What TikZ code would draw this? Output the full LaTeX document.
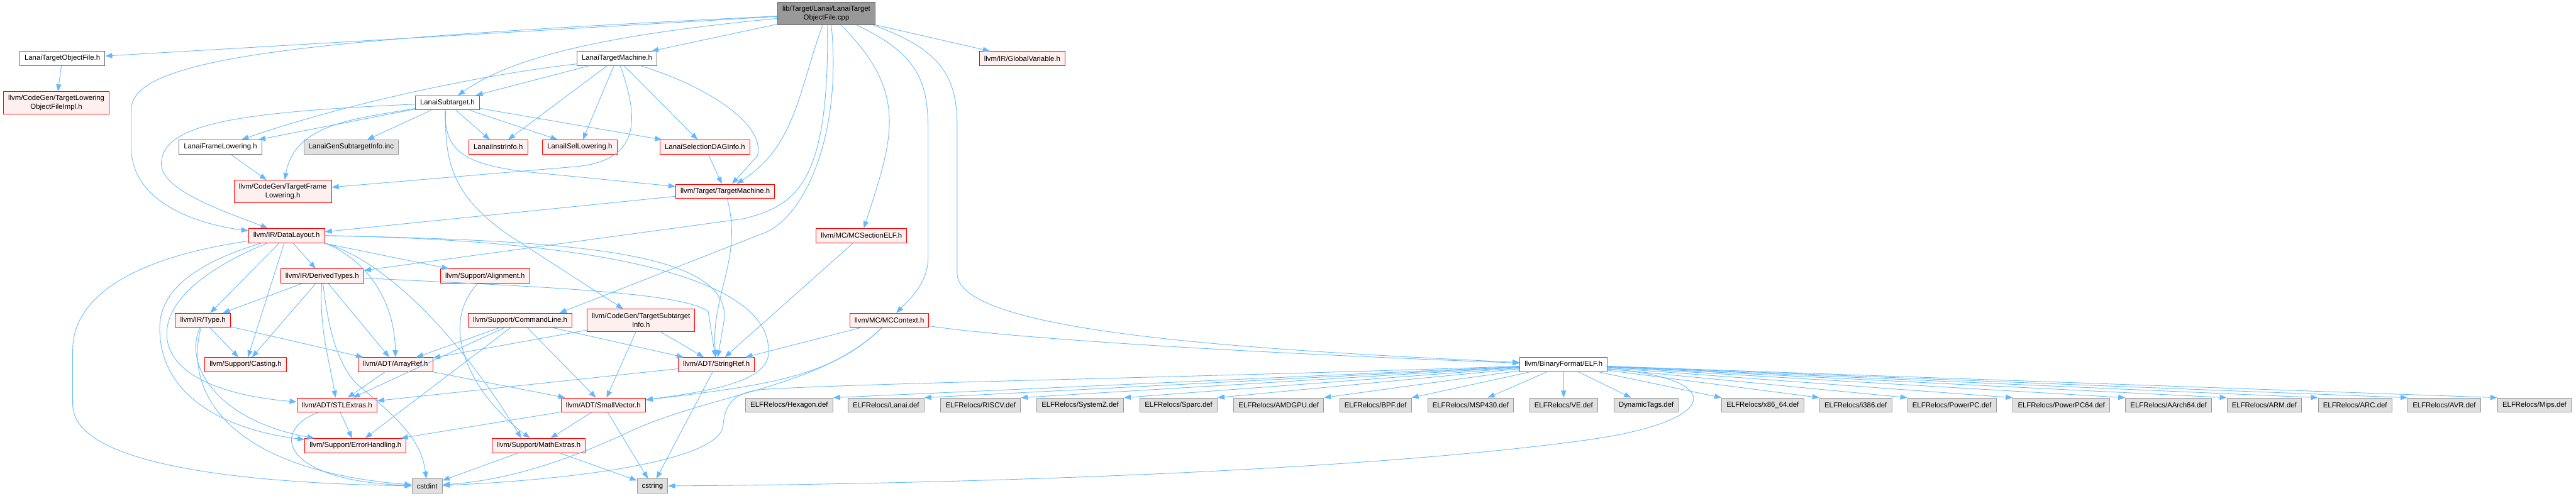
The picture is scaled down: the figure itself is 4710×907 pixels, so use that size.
\documentclass[tikz,border=0pt]{standalone}
\usepackage{fontspec}
\setmainfont{Liberation Sans}
\usetikzlibrary{arrows.meta}

\definecolor{edgeblue}{HTML}{63B8FF}
\definecolor{truncfill}{HTML}{FFF0F0}
\definecolor{sysfill}{HTML}{E0E0E0}
\definecolor{sysborder}{HTML}{999999}
\definecolor{rootfill}{HTML}{999999}
\definecolor{hdrborder}{HTML}{666666}

\begin{document}
\begin{tikzpicture}[x=0.25mm, y=-0.25mm,
    >={Triangle[length=3.2mm,width=2.4mm]},
    box/.style={draw, line width=0.8pt, align=center,
        font=\fontsize{9.3}{11}\selectfont,
        inner xsep=2.2mm, inner ysep=0pt, minimum height=6.5mm},
    rootbox/.style={box, draw=hdrborder, fill=rootfill, minimum height=10.3mm},
    hdr/.style={box, draw=hdrborder, fill=white},
    trunc/.style={box, draw=red, fill=truncfill},
    sys/.style={box, draw=sysborder, fill=sysfill},
    tall/.style={minimum height=10.2mm},
    incl/.style={->, draw=edgeblue, line width=0.7pt}]

        \useasboundingbox (0,0) rectangle (4710,907);

        % Nodes
        \node[rootbox] (main) at (1511,25) {lib/Target/Lanai/LanaiTarget\\ObjectFile.cpp};
        \node[hdr] (tofh) at (114,107) {LanaiTargetObjectFile.h};
        \node[trunc, tall] (tlof) at (103,188) {llvm/CodeGen/TargetLowering\\ObjectFileImpl.h};
        \node[hdr] (ltm) at (1128,107) {LanaiTargetMachine.h};
        \node[trunc] (gv) at (1869,107) {llvm/IR/GlobalVariable.h};
        \node[hdr] (lst) at (818,188) {LanaiSubtarget.h};
        \node[hdr] (lfl) at (403,269) {LanaiFrameLowering.h};
        \node[sys] (lgsi) at (642,269) {LanaiGenSubtargetInfo.inc};
        \node[trunc] (lii) at (911,269) {LanaiInstrInfo.h};
        \node[trunc] (lisel) at (1060,269) {LanaiISelLowering.h};
        \node[trunc] (lsdag) at (1289,269) {LanaiSelectionDAGInfo.h};
        \node[trunc, tall] (tfl) at (517,350) {llvm/CodeGen/TargetFrame\\Lowering.h};
        \node[trunc] (tm) at (1326,350) {llvm/Target/TargetMachine.h};
        \node[trunc] (dl) at (524,431) {llvm/IR/DataLayout.h};
        \node[trunc] (mcsec) at (1575,431) {llvm/MC/MCSectionELF.h};
        \node[trunc] (dt) at (589,505) {llvm/IR/DerivedTypes.h};
        \node[trunc] (align) at (887,505) {llvm/Support/Alignment.h};
        \node[trunc] (type) at (371,586) {llvm/IR/Type.h};
        \node[trunc] (cl) at (951,586) {llvm/Support/CommandLine.h};
        \node[trunc, tall] (tsi) at (1172,586) {llvm/CodeGen/TargetSubtarget\\Info.h};
        \node[trunc] (mcctx) at (1626,586) {llvm/MC/MCContext.h};
        \node[trunc] (cast) at (449,667) {llvm/Support/Casting.h};
        \node[trunc] (aref) at (723,667) {llvm/ADT/ArrayRef.h};
        \node[trunc] (sref) at (1310,667) {llvm/ADT/StringRef.h};
        \node[hdr] (elf) at (2859,667) {llvm/BinaryFormat/ELF.h};
        \node[trunc] (stl) at (616,741) {llvm/ADT/STLExtras.h};
        \node[trunc] (svec) at (1103,741) {llvm/ADT/SmallVector.h};
        \node[trunc] (err) at (650,815) {llvm/Support/ErrorHandling.h};
        \node[trunc] (math) at (985,815) {llvm/Support/MathExtras.h};
        \node[sys] (cstdint) at (781,889) {cstdint};
        \node[sys] (cstring) at (1193,889) {cstring};

        % ELF relocation tables
        \node[sys] (hexdef) at (1443,741) {ELFRelocs/Hexagon.def};
        \node[sys] (lanaidef) at (1620,741) {ELFRelocs/Lanai.def};
        \node[sys] (riscvdef) at (1793,741) {ELFRelocs/RISCV.def};
        \node[sys] (systemzdef) at (1975,741) {ELFRelocs/SystemZ.def};
        \node[sys] (sparcdef) at (2155,741) {ELFRelocs/Sparc.def};
        \node[sys] (amdgpudef) at (2338,741) {ELFRelocs/AMDGPU.def};
        \node[sys] (bpfdef) at (2515,741) {ELFRelocs/BPF.def};
        \node[sys] (mspdef) at (2689,741) {ELFRelocs/MSP430.def};
        \node[sys] (vedef) at (2859,741) {ELFRelocs/VE.def};
        \node[sys] (dyntags) at (3010,741) {DynamicTags.def};
        \node[sys] (x86def) at (3223,741) {ELFRelocs/x86\_64.def};
        \node[sys] (i386def) at (3393,741) {ELFRelocs/i386.def};
        \node[sys] (ppcdef) at (3569,741) {ELFRelocs/PowerPC.def};
        \node[sys] (ppc64def) at (3769,741) {ELFRelocs/PowerPC64.def};
        \node[sys] (aarchdef) at (3965,741) {ELFRelocs/AArch64.def};
        \node[sys] (armdef) at (4140,741) {ELFRelocs/ARM.def};
        \node[sys] (arcdef) at (4306,741) {ELFRelocs/ARC.def};
        \node[sys] (avrdef) at (4469,741) {ELFRelocs/AVR.def};
        \node[sys] (mipsdef) at (4634,741) {ELFRelocs/Mips.def};

        % Edges
        \draw[incl] (main) -- (tofh);
        \draw[incl] (main) .. controls (600,70) and (240,100) .. (240,200) -- (240,270) .. controls (240,370) and (360,410) .. (dl);
        \draw[incl] (main) .. controls (1150,60) and (950,95) .. (lst);
        \draw[incl] (main) -- (ltm);
        \draw[incl] ([xshift=-1.75mm]main.south) to[out=250,in=33] (tm);
        \draw[incl] ([xshift=0.5mm]main.south) .. controls (1516,330) and (1460,375) .. (1360,400) -- (dt);
        \draw[incl] ([xshift=2.25mm]main.south) .. controls (1540,250) and (1470,395) .. (1400,425) -- ([xshift=18mm]cl.north);
        \draw[incl] ([xshift=6.75mm]main.south) to[out=-45,in=72,looseness=1.2] (mcsec);
        \draw[incl] ([xshift=14mm]main.south) .. controls (1680,100) and (1697,150) .. (1697,240) -- (1697,470) .. controls (1697,520) and (1660,550) .. (mcctx);
        \draw[incl] ([xshift=21.5mm]main.south) .. controls (1720,90) and (1750,140) .. (1750,230) -- (1750,500) .. controls (1750,610) and (2300,640) .. (elf);
        \draw[incl] (main) -- (gv);

        \draw[incl] (tofh) -- (tlof);

        \draw[incl] ([yshift=-2.5mm]ltm.west) .. controls (850,140) and (600,200) .. (lfl);
        \draw[incl] (ltm) -- (lst);
        \draw[incl] (ltm) -- (lii);
        \draw[incl] (ltm) -- (lisel);
        \draw[incl] (ltm) -- (lsdag);
        \draw[incl] ([xshift=1.5mm]ltm.south) .. controls (1170,220) and (1170,295) .. (1050,305) -- (tfl);
        \draw[incl] (ltm) .. controls (1300,160) and (1400,230) .. (1385,285) -- (tm);

        \draw[incl] (lst) .. controls (440,205) and (295,225) .. (295,300) .. controls (295,350) and (420,390) .. (dl);
        \draw[incl] (lst) -- (lfl);
        \draw[incl] (lst) to[out=190,in=80] (tfl);
        \draw[incl] (lst) -- (lgsi);
        \draw[incl] (lst) -- (lii);
        \draw[incl] (lst) -- (lisel);
        \draw[incl] (lst) -- (lsdag);
        \draw[incl] ([xshift=-1mm]lst.south) .. controls (812,280) and (850,305) .. (1000,318) -- (tm);
        \draw[incl] ([xshift=-0.75mm]lst.south) .. controls (812,300) and (830,360) .. (930,430) -- (tsi);

        \draw[incl] (lfl) -- (tfl);
        \draw[incl] (lsdag) -- (tm);
        \draw[incl] (tm) -- (dl);
        \draw[incl] (tm) to[out=-75,in=95] (sref);

        \draw[incl] (dl) .. controls (250,470) and (133,540) .. (133,640) -- (133,740) .. controls (133,860) and (500,885) .. (cstdint);
        \draw[incl] (dl) .. controls (360,480) and (292,530) .. (292,600) .. controls (292,740) and (440,790) .. (err);
        \draw[incl] (dl) .. controls (400,480) and (305,540) .. (305,610) .. controls (305,690) and (420,725) .. (stl);
        \draw[incl] (dl) -- (type);
        \draw[incl] (dl) -- (cast);
        \draw[incl] (dl) -- (dt);
        \draw[incl] (dl.south east) .. controls (680,480) and (722,560) .. (aref);
        \draw[incl] (dl.south east) .. controls (740,490) and (880,680) .. ([xshift=-8mm]math.north);
        \draw[incl] (dl) -- (align);
        \draw[incl] (dl.east) .. controls (1050,440) and (1325,460) .. (1325,580) -- (sref);
        \draw[incl] (dl.east) .. controls (1150,440) and (1405,520) .. (1405,640) .. controls (1410,690) and (1330,712) .. (svec);

        \draw[incl] (mcsec) -- (sref);

        \draw[incl] (dt) -- (type);
        \draw[incl] (dt) -- (cast);
        \draw[incl] (dt) -- (aref);
        \draw[incl] (dt) to[out=-93,in=100] (stl);
        \draw[incl] (dt) .. controls (600,600) and (615,660) .. (650,700) .. controls (720,760) and (770,800) .. (cstdint);
        \draw[incl] (dt) .. controls (1000,525) and (1250,535) .. (1295,570) -- (sref);

        \draw[incl] (align) .. controls (800,595) and (860,720) .. ([xshift=-4mm]math.north);

        \draw[incl] (type) -- (cast);
        \draw[incl] (type) -- (aref);
        \draw[incl] (type) .. controls (335,670) and (400,770) .. (err);
        \draw[incl] (type) .. controls (335,720) and (420,860) .. (cstdint);

        \draw[incl] (cl) -- (aref);
        \draw[incl] (cl) -- (stl);
        \draw[incl] (cl) -- (err);
        \draw[incl] (cl) -- (svec);
        \draw[incl] (cl) -- (sref);

        \draw[incl] (tsi) -- (aref);
        \draw[incl] (tsi) -- (svec);
        \draw[incl] (tsi) -- (sref);

        \draw[incl] (mcctx) -- (sref);
        \draw[incl] (mcctx) .. controls (1520,690) and (1400,705) .. (svec);
        \draw[incl] (mcctx) .. controls (1500,710) and (1300,720) .. (1150,790) .. controls (1000,860) and (900,880) .. (cstdint);
        \draw[incl] (mcctx) .. controls (1900,625) and (2400,650) .. (elf);

        \draw[incl] (aref) -- (stl);
        \draw[incl] (aref) -- (svec);
        \draw[incl] (sref) -- (stl);
        \draw[incl] (sref) -- (cstring);
        \draw[incl] (stl) -- (err);
        \draw[incl] (stl) .. controls (490,790) and (520,880) .. (cstdint);
        \draw[incl] (svec) -- (err);
        \draw[incl] (svec) -- (math);
        \draw[incl] (svec) -- (cstring);
        \draw[incl] (math) -- (cstdint);
        \draw[incl] (math) -- (cstring);

        \draw[incl] (elf) .. controls (2200,690) and (1600,700) .. (1400,712) .. controls (1340,716) and (1325,740) .. (1322,780) .. controls (1310,850) and (1000,880) .. (cstdint);
        \draw[incl] ([yshift=-2mm]elf.east) .. controls (3155,690) and (3155,770) .. (2900,805) .. controls (2500,860) and (1800,885) .. (cstring);
        \draw[incl] (elf) -- (hexdef.north east);
        \draw[incl] (elf) -- (lanaidef.north east);
        \draw[incl] (elf) -- (riscvdef.north east);
        \draw[incl] (elf) -- (systemzdef.north east);
        \draw[incl] (elf) -- (sparcdef.north east);
        \draw[incl] (elf) -- (amdgpudef.north east);
        \draw[incl] (elf) -- (bpfdef.north east);
        \draw[incl] (elf) -- (mspdef);
        \draw[incl] (elf) -- (vedef);
        \draw[incl] (elf) -- (dyntags);
        \draw[incl] (elf) -- (x86def.north west);
        \draw[incl] (elf) -- (i386def.north west);
        \draw[incl] (elf) -- (ppcdef.north west);
        \draw[incl] (elf) -- (ppc64def.north west);
        \draw[incl] (elf) -- (aarchdef.north west);
        \draw[incl] (elf) -- (armdef.north west);
        \draw[incl] (elf) -- (arcdef.north west);
        \draw[incl] (elf) -- (avrdef.north west);
        \draw[incl] (elf) -- (mipsdef.north west);

    \end{tikzpicture}
\end{document}
